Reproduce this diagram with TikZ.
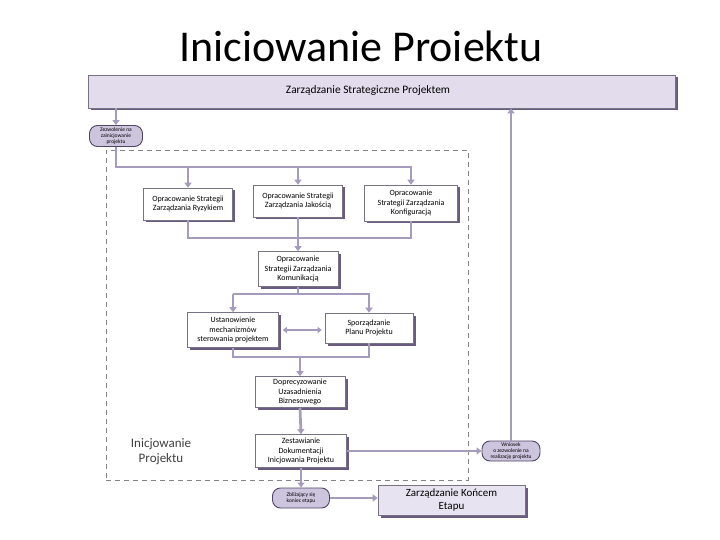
\documentclass[tikz,border=0pt]{standalone}
\usepackage{fontspec}
\setmainfont{Carlito}
\usetikzlibrary{shadows,arrows.meta}
\definecolor{barfill}{RGB}{226,220,236}
\definecolor{kefill}{RGB}{232,227,240}
\definecolor{shadowc}{RGB}{105,92,128}
\definecolor{connc}{RGB}{165,155,188}
\definecolor{pillfill}{RGB}{205,196,222}
\definecolor{pilldraw}{RGB}{80,70,100}
\definecolor{boxdraw}{RGB}{120,115,130}
\definecolor{framec}{RGB}{130,130,135}
\begin{document}
\begin{tikzpicture}[x=1pt,y=-1pt,
 box/.style={draw=boxdraw, line width=0.6pt, fill=white, align=center,
   font=\fontsize{8}{9.5}\selectfont, inner sep=1pt,
   drop shadow={shadow xshift=2.5pt, shadow yshift=-2.5pt, fill=shadowc, opacity=1}},
 pill/.style={draw=pilldraw, line width=0.9pt, fill=pillfill, rounded corners=8pt,
   align=center, font=\fontsize{5.5}{6}\selectfont, inner sep=0pt},
 conn/.style={draw=connc, line width=2.7pt},
 arr/.style={conn, -{Triangle[length=5pt,width=7pt]}},
 darr/.style={conn, line width=2pt, {Triangle[length=4pt,width=6pt]}-{Triangle[length=4pt,width=6pt]}}
]
\useasboundingbox (0,0) rectangle (720,540);
\fill[white] (0,0) rectangle (720,540);

% title
\node (title) at (361,46) {\fontsize{44}{44}\selectfont Iniciowanie Proiektu};

% frame
\node[draw=framec, dashed, dash pattern=on 5pt off 4pt, line width=0.8pt,
      minimum width=362, minimum height=330, inner sep=0pt] (frame) at (287,315) {};
\node[align=center, text=black!75, font=\fontsize{13}{15}\selectfont] (inic) at (161,452) {Inicjowanie\\Projektu};

% top bar
\node[draw=boxdraw, line width=0.6pt, fill=barfill, minimum width=587, minimum height=33, inner sep=0pt,
      drop shadow={shadow xshift=2.5pt, shadow yshift=-2.5pt, fill=shadowc, opacity=1}] (bar) at (381.5,91.5) {};
\node[font=\fontsize{11.4}{13}\selectfont] (bartext) at (368,91) {Zarządzanie Strategiczne Projektem};

% pills
\node[pill, minimum width=53, minimum height=21] (perm) at (116,136) {Zezwolenie na\\zainicjowanie\\projektu};
\node[pill, minimum width=58, minimum height=20] (wn) at (511,451) {Wniosek\\o zezwolenie na\\realizację projektu};
\node[pill, minimum width=57, minimum height=20] (zb) at (301,498) {Zbliżający się\\koniec etapu};

% boxes
\node[box, minimum width=89, minimum height=32] (b1) at (188,204) {Opracowanie Strategii\\Zarządzania Ryzykiem};
\node[box, minimum width=89, minimum height=32] (b2) at (298,201) {Opracowanie Strategii\\Zarządzania Jakością};
\node[box, minimum width=93, minimum height=36] (b3) at (411,203) {Opracowanie\\Strategii Zarządzania\\Konfiguracją};
\node[box, minimum width=80, minimum height=35] (b4) at (298,269) {Opracowanie\\Strategii Zarządzania\\Komunikacją};
\node[box, minimum width=91, minimum height=35] (b5) at (233,330) {Ustanowienie\\mechanizmów\\sterowania projektem};
\node[box, minimum width=88, minimum height=30] (b6) at (369,328) {Sporządzanie\\Planu Projektu};
\node[box, minimum width=90, minimum height=31] (b7) at (300,392) {Doprecyzowanie\\Uzasadnienia\\Biznesowego};
\node[box, minimum width=91, minimum height=33] (b8) at (301,451) {Zestawianie\\Dokumentacji\\Inicjowania Projektu};
\node[box, fill=kefill, minimum width=147, minimum height=30, font=\fontsize{11}{13}\selectfont] (ke) at (451.5,500) {Zarządzanie Końcem\\Etapu};

% join coordinates
\coordinate (j1) at (0,167);
\coordinate (j2) at (0,238);
\coordinate (j3) at (0,294);
\coordinate (j4) at (0,357);

% connectors
\draw[arr] (bar.south -| perm.north) -- (perm.north);
\draw[arr] (perm.south) |- (b3.north |- j1) -- (b3.north);
\draw[arr] (b1.north |- j1) -- (b1.north);
\draw[arr] (b2.north |- j1) -- (b2.north);

\draw[conn] (b1.south) |- (b3.south |- j2) -- (b3.south);
\draw[arr] (b2.south) -- (b4.north);

\draw[conn] (b4.south) -- (b4.south |- j3);
\draw[arr] (b5.north |- j3) -- (b5.north);
\draw[arr] (b5.north |- j3) -- (b6.north |- j3) -- (b6.north);
\draw[darr] ([xshift=4pt]b5.east) -- ([xshift=-3pt]b6.west |- b5.east);

\draw[conn] (b5.south) |- (b6.south |- j4) -- (b6.south);
\draw[arr] (b7.north |- j4) -- (b7.north);
\draw[arr] (b7.south) -- (b8.north);

\draw[arr] (b8.east) -- (wn.west);
\draw[arr] (wn.north) -- (wn.north |- bar.south);
\draw[arr] (b8.south) -- (zb.north);
\draw[arr] (zb.east) -- (ke.west |- zb.east);
\end{tikzpicture}
\end{document}
